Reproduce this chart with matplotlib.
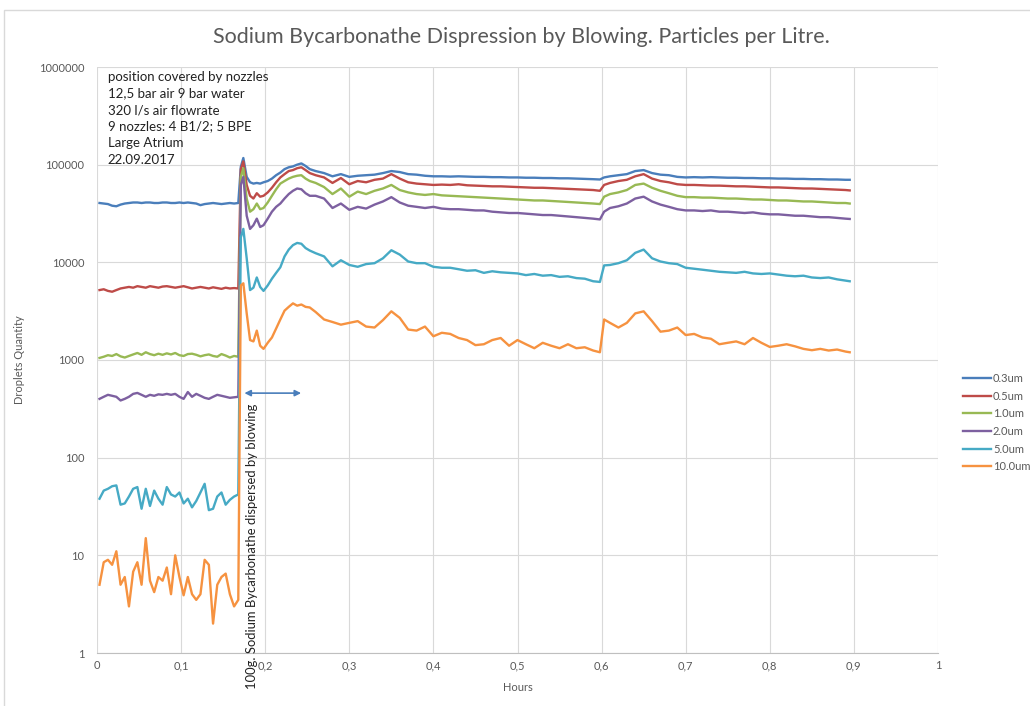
import matplotlib
matplotlib.use("Agg")
import matplotlib.pyplot as plt
import numpy as np
from matplotlib.ticker import FixedLocator, FuncFormatter, NullLocator
from matplotlib.patches import Rectangle

plt.rcParams['font.family'] = ['Lato', 'DejaVu Sans']

# час (години) по сегментах
hours = np.concatenate([
    np.round(0.003 + 0.005 * np.arange(34), 3),            # до розпилення
    [0.171, 0.174, 0.178, 0.182, 0.186, 0.190, 0.194, 0.198, 0.203, 0.208,
     0.213, 0.218, 0.223, 0.228, 0.233, 0.238, 0.243, 0.248, 0.253],
    np.round(np.arange(0.26, 0.595, 0.01), 2),              # 0.26 .. 0.59
    [0.598, 0.603],
    np.round(np.arange(0.61, 0.705, 0.01), 2),              # 0.61 .. 0.70
    np.round(np.arange(0.71, 0.895, 0.01), 2), [0.895],     # 0.71 .. 0.895
])

labels = ["0.3um", "0.5um", "1.0um", "2.0um", "5.0um", "10.0um"]
colors = ["#4A7EBB", "#BE4B48", "#98B954", "#7D60A0", "#46AAC5", "#F69240"]

um03 = [40500, 40000, 39500, 38000, 37500, 39000, 40000, 40500, 41000, 41000,
        40500, 41000, 41000, 40500, 40500, 41000, 41000, 40500, 40500, 41000,
        40500, 41000, 40500, 40000, 38500, 39500, 40000, 40500, 40000, 39500,
        40000, 40500, 40000, 40500,
        95000, 117000, 75000, 66000, 64000, 65000, 64000, 66000, 68000, 72000,
        78000, 83000, 90000, 94000, 96000, 100000, 103000, 97000, 90000,
        86000, 82000, 76000, 80000, 75000, 77000, 78000, 79000, 82000, 86000,
        84000, 80000, 79000, 77000, 76000, 76000, 75500, 76000, 75500, 75000,
        75000, 74500, 74500, 74000, 74000, 73500, 73500, 73000, 73000, 72500,
        72500, 72000, 71500, 71000,
        70500, 74000, 76000, 78000, 80000, 86000, 88000, 82000, 79000, 78000, 75000, 74000,
        74500, 74000, 74500, 74000, 73500, 73500, 73000, 73000, 72500, 72500,
        72000, 72000, 71500, 71500, 71000, 71000, 70500, 70500, 70000, 70000]

um05 = [5200, 5300, 5100, 5000, 5200, 5400, 5500, 5600, 5500, 5700,
        5600, 5500, 5700, 5600, 5500, 5650, 5700, 5600, 5500, 5600,
        5700, 5550, 5400, 5500, 5600, 5500, 5400, 5550, 5450, 5350,
        5500, 5400, 5450, 5400,
        90000, 108000, 62000, 48000, 45000, 51000, 47000, 48000, 52000, 58000,
        66000, 74000, 80000, 86000, 88000, 92000, 94000, 88000, 82000,
        78000, 74000, 65000, 73000, 63000, 68000, 66000, 70000, 72000, 80000,
        72000, 66000, 64000, 63000, 62000, 62500, 62000, 63000, 61500, 61000,
        60500, 60000, 60000, 59500, 59000, 58500, 58000, 58000, 57500, 57000,
        56500, 56000, 55500, 55000,
        54000, 62000, 65000, 68000, 70000, 76000, 80000, 72000, 68000, 66000, 63000, 62000,
        62000, 61500, 61000, 61000, 60500, 60000, 60000, 59500, 59000, 58500,
        58500, 58000, 57500, 57000, 57000, 56500, 56000, 55500, 55000, 54500]

um10 = [1050, 1080, 1120, 1100, 1150, 1090, 1060, 1100, 1140, 1180,
        1130, 1200, 1150, 1120, 1160, 1130, 1170, 1140, 1180, 1120,
        1100, 1150, 1160, 1130, 1090, 1120, 1140, 1100, 1080, 1150,
        1110, 1060, 1100, 1080,
        75000, 92000, 45000, 33000, 35000, 40000, 35000, 36000, 41000, 48000,
        56000, 64000, 68000, 72000, 75000, 77000, 78000, 72000, 68000,
        65000, 59000, 50000, 57000, 47000, 53000, 50000, 54000, 57000, 62000,
        55000, 52000, 50000, 49000, 50000, 48500, 48000, 47500, 47000, 46500,
        46000, 45500, 45000, 44500, 44000, 43500, 43000, 43000, 42500, 42000,
        41500, 41000, 40500, 40000,
        39500, 47000, 50000, 52000, 55000, 62000, 64000, 58000, 54000, 51000, 48000, 46500,
        46500, 46000, 46000, 45500, 45000, 45000, 44500, 44000, 44000, 43500,
        43000, 43000, 42500, 42000, 42000, 41500, 41000, 40500, 40500, 40000]

um20 = [400, 420, 440, 430, 420, 385, 400, 420, 450, 460,
        440, 420, 440, 430, 445, 440, 450, 440, 450, 420,
        400, 470, 420, 450, 430, 410, 400, 420, 440, 430,
        420, 410, 415, 420,
        62000, 75000, 30000, 22000, 24000, 28000, 23000, 24000, 28000, 33000,
        37000, 40000, 45000, 50000, 54000, 57000, 56000, 51000, 48000,
        48000, 45000, 36000, 40000, 34500, 37000, 35500, 39000, 42000, 46500,
        41000, 38000, 37000, 36000, 37000, 35500, 35000, 35000, 34500, 34000,
        34000, 33000, 32500, 32000, 32000, 31500, 31000, 30500, 30500, 30000,
        29500, 29000, 28500, 28000,
        27500, 33000, 36000, 37500, 40000, 45000, 47000, 42000, 39000, 37000, 35000, 34000,
        34000, 33500, 34000, 33000, 33000, 32500, 32000, 32500, 31500, 31000,
        31000, 30500, 30000, 30000, 29500, 29000, 29000, 28500, 28000, 27800]

um50 = [38, 46, 48, 51, 52, 33, 34, 40, 48, 50,
        30, 48, 32, 46, 38, 33, 50, 42, 40, 44,
        34, 38, 31, 36, 44, 54, 29, 30, 40, 44,
        33, 37, 40, 42,
        18000, 22000, 11000, 5200, 5500, 7000, 5600, 5100, 5800, 6800,
        7800, 8900, 11500, 13500, 15000, 15800, 15500, 14000, 13200,
        12400, 11500, 9100, 10500, 9400, 9000, 9600, 9800, 11000, 13300,
        12000, 10200, 9800, 9800, 9000, 8800, 8800, 8500, 8200, 8300,
        7800, 8100, 7900, 7800, 7700, 7400, 7600, 7300, 7400, 7100,
        7200, 6900, 6800, 6400,
        6300, 9300, 9400, 9800, 10500, 12500, 13500, 11000, 10200, 9800, 9600, 8800,
        8600, 8400, 8200, 8000, 7900, 7800, 8000, 7700, 7600, 7700,
        7500, 7300, 7200, 7300, 7000, 6900, 7000, 6700, 6500, 6400]

um100 = [5, 8.5, 9, 8, 11, 5, 6, 3, 6.8, 8.5,
         5, 15, 5.5, 4.2, 6, 5.5, 7.5, 4, 10, 6,
         3.9, 6, 4, 3.5, 4, 9, 8, 2, 5, 6,
         6.5, 4, 3, 3.5,
         5800, 6100, 3000, 1600, 1550, 2000, 1400, 1300, 1500, 1700,
         2100, 2600, 3200, 3500, 3800, 3600, 3700, 3500, 3450,
         3100, 2600, 2450, 2300, 2400, 2500, 2200, 2150, 2560, 3150,
         2700, 2050, 2000, 2200, 1750, 1900, 1850, 1680, 1600, 1420,
         1450, 1600, 1680, 1400, 1600, 1450, 1320, 1500, 1400, 1320,
         1450, 1320, 1350, 1250,
         1200, 2600, 2400, 2150, 2400, 3000, 3150, 2500, 1950, 2000, 2150, 1800,
         1850, 1700, 1650, 1450, 1500, 1550, 1450, 1680, 1500, 1360,
         1400, 1450, 1380, 1300, 1260, 1300, 1250, 1280, 1220, 1200]

series = [um03, um05, um10, um20, um50, um100]

info_text = ("position covered by nozzles\n12,5 bar air 9 bar water\n320 l/s air flowrate\n"
             "9 nozzles: 4 B1/2; 5 BPE\nLarge Atrium\n22.09.2017")

grey = "#595959"

fig = plt.figure(figsize=(10.30, 7.06), dpi=100)
ax = fig.add_axes([97 / 1030, 1 - 653 / 706, 841 / 1030, 586 / 706])

# рамка всієї діаграми
fig.patches.append(Rectangle((4 / 1030, -0.05), 1.1, 1.05 - 10 / 706,
                             transform=fig.transFigure, fill=False,
                             edgecolor="#D9D9D9", lw=1))

for vals, lab, col in zip(series, labels, colors):
    ax.plot(hours, vals, color=col, lw=1.7, label=lab, solid_joinstyle="round")

ax.set_yscale("log")
ax.set_xlim(0, 1)
ax.set_ylim(1, 1e6)
ax.xaxis.set_major_locator(FixedLocator(np.arange(0, 1.01, 0.1)))
ax.xaxis.set_major_formatter(FuncFormatter(lambda v, p: ("%g" % round(v, 1)).replace(".", ",")))
ax.yaxis.set_major_locator(FixedLocator([1, 10, 100, 1000, 10000, 100000, 1000000]))
ax.yaxis.set_major_formatter(FuncFormatter(lambda v, p: "%d" % v))
ax.yaxis.set_minor_locator(NullLocator())
ax.grid(True, color="#D9D9D9", lw=0.8)
ax.set_axisbelow(True)
for s in ["left", "right", "top"]:
    ax.spines[s].set_visible(False)
ax.spines["bottom"].set_color("#BFBFBF")
ax.tick_params(length=0, labelsize=8, labelcolor=grey)
ax.tick_params(axis="y", pad=9)
ax.tick_params(axis="x", pad=5)

ax.set_xlabel("Hours", fontsize=8, color=grey, labelpad=8)
ax.set_ylabel("Droplets Quantity", fontsize=8, color=grey, labelpad=10)

fig.text(0.506, 1 - 37 / 706, "Sodium Bycarbonathe Dispression by Blowing. Particles per Litre.",
         ha="center", va="center", fontsize=15.5, color=grey)

ax.text(0.013, 0.993, info_text, transform=ax.transAxes, ha="left", va="top",
        fontsize=9.5, color="#222222", linespacing=1.45)

# стрілка та підпис моменту розпилення
ax.annotate("", xy=(0.246, 458), xytext=(0.172, 458),
            arrowprops=dict(arrowstyle="<|-|>", color="#4A7EBB", lw=1.2, mutation_scale=9))
ax.text(0.184, 354, "100g. Sodium Bycarbonathe dispersed by blowing", rotation=90,
        ha="center", va="top", fontsize=9.4, color="#222222", clip_on=False)

fig.legend(loc="center left", bbox_to_anchor=(963 / 1030, 1 - 422.5 / 706), frameon=False,
           fontsize=8, handlelength=2.5, handletextpad=0.2, labelspacing=0.6,
           borderpad=0, borderaxespad=0, labelcolor=grey)

fig.savefig("out.png", dpi=100)
